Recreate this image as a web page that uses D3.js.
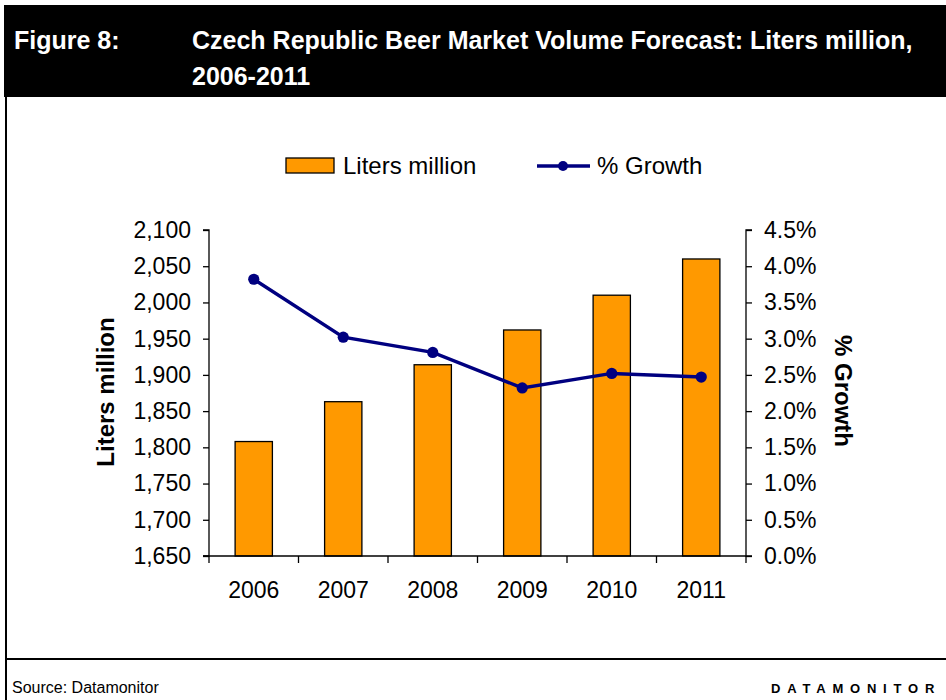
<!DOCTYPE html>
<html>
<head>
<meta charset="utf-8">
<script src="https://cdn.jsdelivr.net/npm/d3@7"></script>
<style>
  html, body { margin: 0; padding: 0; background: #fff; }
  svg { display: block; font-family: "Liberation Sans", Arial, sans-serif; }
</style>
</head>
<body>
<svg id="chart" width="946" height="700"></svg>
<script>
// Czech beer market volume, liters million, with year-on-year growth
const years = ["2006", "2007", "2008", "2009", "2010", "2011"];
const litersMillion = [1808, 1863, 1914, 1962, 2010, 2060];
const growthPct = [3.82, 3.02, 2.81, 2.32, 2.52, 2.47];
const leftTicks = [1650, 1700, 1750, 1800, 1850, 1900, 1950, 2000, 2050, 2100];
const rightTicks = [0, 0.5, 1.0, 1.5, 2.0, 2.5, 3.0, 3.5, 4.0, 4.5];

const svg = d3.select("#chart");

// Header band
svg.append("rect").attr("x", 4).attr("y", 5).attr("width", 942).attr("height", 92).attr("fill", "#000");
svg.append("text").attr("x", 14).attr("y", 49).attr("fill", "#fff")
  .attr("font-size", 25).attr("font-weight", "bold").text("Figure 8:");
svg.append("text").attr("x", 192).attr("y", 49).attr("fill", "#fff")
  .attr("font-size", 25).attr("font-weight", "bold")
  .text("Czech Republic Beer Market Volume Forecast: Liters million,");
svg.append("text").attr("x", 192).attr("y", 85).attr("fill", "#fff")
  .attr("font-size", 25).attr("font-weight", "bold").text("2006-2011");

// Frame lines
svg.append("line").attr("x1", 6).attr("x2", 6).attr("y1", 97).attr("y2", 700)
  .attr("stroke", "#000").attr("stroke-width", 2);
svg.append("line").attr("x1", 6).attr("x2", 946).attr("y1", 659).attr("y2", 659)
  .attr("stroke", "#000").attr("stroke-width", 2);

// Footer
svg.append("text").attr("x", 12).attr("y", 693).attr("font-size", 16).attr("fill", "#000")
  .text("Source: Datamonitor");
svg.append("text").attr("x", 771).attr("y", 693).attr("font-size", 13).attr("font-weight", "bold")
  .attr("letter-spacing", "6.8px").attr("fill", "#000").text("DATAMONITOR");

// Plot area
const m = { left: 209, right: 746, top: 230, bottom: 556 };

const x = d3.scaleBand().domain(years).range([m.left, m.right]).paddingInner(0).paddingOuter(0);
const yL = d3.scaleLinear().domain([1650, 2100]).range([m.bottom, m.top]);
const yR = d3.scaleLinear().domain([0, 4.5]).range([m.bottom, m.top]);

const barW = x.bandwidth() / 2.4;

// Bars
svg.append("g").selectAll("rect").data(years).join("rect")
  .attr("x", (d) => x(d) + (x.bandwidth() - barW) / 2)
  .attr("y", (d, i) => yL(litersMillion[i]))
  .attr("width", barW)
  .attr("height", (d, i) => yL(1650) - yL(litersMillion[i]))
  .attr("fill", "#FF9900").attr("stroke", "#000").attr("stroke-width", 1.3);

// Axes
const fmtL = d3.format(",");
const leftAxis = d3.axisLeft(yL).tickValues(leftTicks).tickFormat(fmtL).tickSize(6).tickPadding(12);
const gL = svg.append("g").attr("transform", `translate(${m.left},0)`).call(leftAxis);

const rightAxis = d3.axisRight(yR).tickValues(rightTicks).tickFormat((d) => d.toFixed(1) + "%").tickSize(6).tickPadding(12);
const gR = svg.append("g").attr("transform", `translate(${m.right},0)`).call(rightAxis);

const bottomAxis = d3.axisBottom(x).tickSize(0).tickPadding(26);
const gB = svg.append("g").attr("transform", `translate(0,${m.bottom})`).call(bottomAxis);

// Category boundary ticks on the x axis
const bounds = years.map((d) => x(d)).concat([m.right]);
svg.append("g").selectAll("line").data(bounds).join("line")
  .attr("x1", (d) => d).attr("x2", (d) => d)
  .attr("y1", m.bottom).attr("y2", m.bottom + 7)
  .attr("stroke", "#000").attr("stroke-width", 1.3);

[gL, gR, gB].forEach((g) => {
  g.selectAll(".domain").attr("stroke", "#000").attr("stroke-width", 1.3);
  g.selectAll(".tick line").attr("stroke", "#000").attr("stroke-width", 1.3);
  g.selectAll(".tick text").attr("font-size", 23).attr("fill", "#000")
    .attr("font-family", "'Liberation Sans', Arial, sans-serif");
});
gL.select(".domain").attr("d", `M-6,${m.top}H0V${m.bottom}H-6`);
gR.select(".domain").attr("d", `M6,${m.top}H0V${m.bottom}H6`);
gB.select(".domain").attr("d", `M${m.left - 6},0H${m.right}`);

// Growth line
const line = d3.line().x((d, i) => x(years[i]) + x.bandwidth() / 2).y((d) => yR(d));
svg.append("path").datum(growthPct).attr("d", line)
  .attr("fill", "none").attr("stroke", "#000080").attr("stroke-width", 3.4);
svg.append("g").selectAll("circle").data(growthPct).join("circle")
  .attr("cx", (d, i) => x(years[i]) + x.bandwidth() / 2)
  .attr("cy", (d) => yR(d)).attr("r", 5.6).attr("fill", "#000080");

// Axis titles
svg.append("text").attr("transform", `translate(114,392) rotate(-90)`)
  .attr("text-anchor", "middle").attr("font-size", 24).attr("font-weight", "bold")
  .text("Liters million");
svg.append("text").attr("transform", `translate(835,391) rotate(90)`)
  .attr("text-anchor", "middle").attr("font-size", 24).attr("font-weight", "bold")
  .text("% Growth");

// Legend
const lg = svg.append("g");
lg.append("rect").attr("x", 286).attr("y", 158).attr("width", 48).attr("height", 15)
  .attr("fill", "#FF9900").attr("stroke", "#000").attr("stroke-width", 1.3);
lg.append("text").attr("x", 343).attr("y", 174).attr("font-size", 24).text("Liters million");
lg.append("line").attr("x1", 537).attr("x2", 590).attr("y1", 166).attr("y2", 166)
  .attr("stroke", "#000080").attr("stroke-width", 3.4);
lg.append("circle").attr("cx", 563).attr("cy", 166).attr("r", 5).attr("fill", "#000080");
lg.append("text").attr("x", 597).attr("y", 174).attr("font-size", 24).text("% Growth");
</script>
</body>
</html>
